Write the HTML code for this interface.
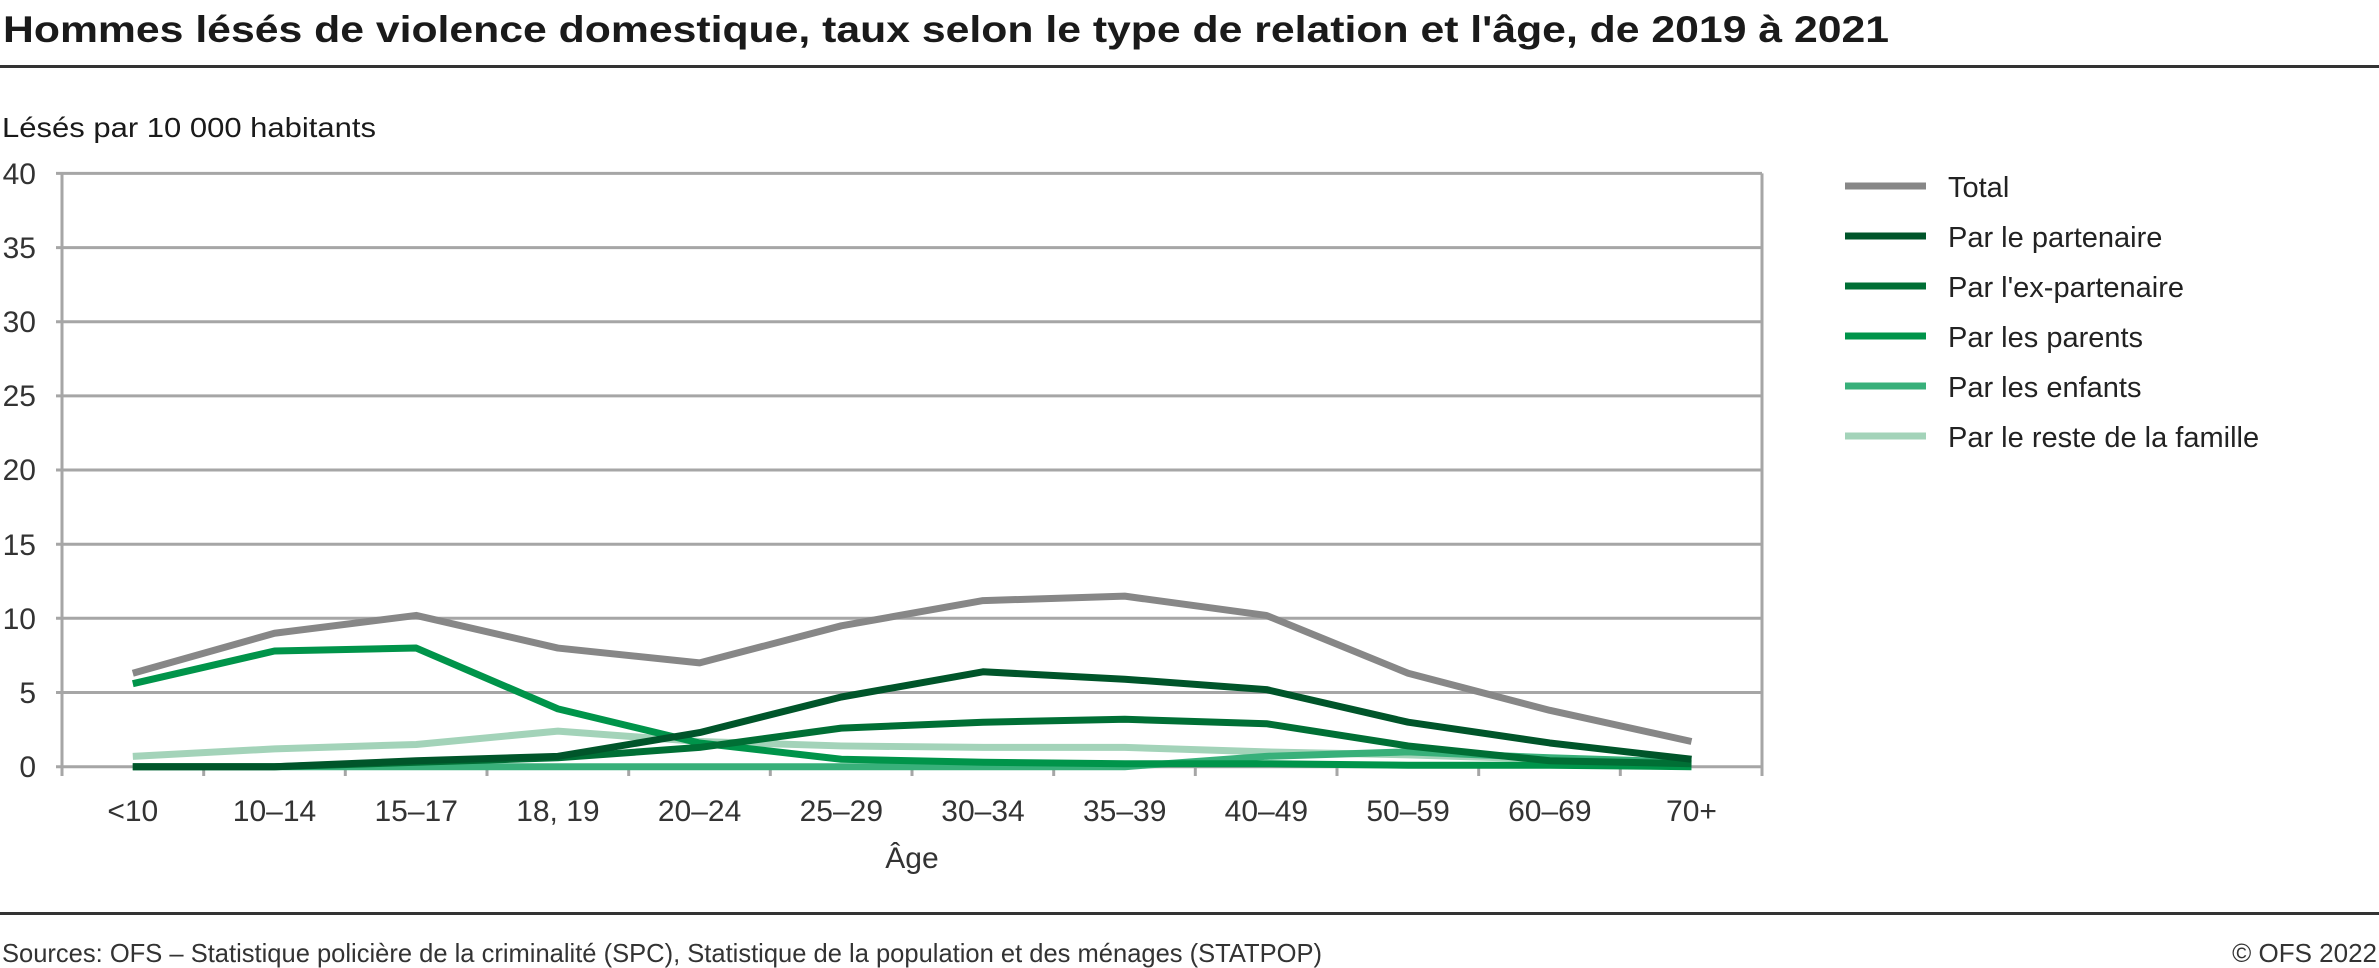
<!DOCTYPE html>
<html><head><meta charset="utf-8"><style>
html,body{margin:0;padding:0;background:#fff;}
svg{display:block;}
text{font-family:"Liberation Sans",sans-serif;}
</style></head><body>
<svg width="2379" height="968" viewBox="0 0 2379 968" xmlns="http://www.w3.org/2000/svg">
<text x="3" y="42" font-size="37" font-weight="bold" fill="#1a1a1a" textLength="1886" lengthAdjust="spacingAndGlyphs">Hommes lésés de violence domestique, taux selon le type de relation et l'âge, de 2019 à 2021</text>
<rect x="0" y="65" width="2379" height="3" fill="#333"/>
<text x="2" y="137" font-size="28" fill="#1a1a1a" textLength="374" lengthAdjust="spacingAndGlyphs">Lésés par 10 000 habitants</text>
<g stroke="#a6a6a6" stroke-width="3" fill="none">
<line x1="56" y1="173.4" x2="1762" y2="173.4"/>
<line x1="56" y1="247.6" x2="1762" y2="247.6"/>
<line x1="56" y1="321.7" x2="1762" y2="321.7"/>
<line x1="56" y1="395.9" x2="1762" y2="395.9"/>
<line x1="56" y1="470.0" x2="1762" y2="470.0"/>
<line x1="56" y1="544.2" x2="1762" y2="544.2"/>
<line x1="56" y1="618.3" x2="1762" y2="618.3"/>
<line x1="56" y1="692.5" x2="1762" y2="692.5"/>
<line x1="56" y1="766.7" x2="1762" y2="766.7"/>
<line x1="62" y1="173.4" x2="62" y2="776"/>
<line x1="1762" y1="173.4" x2="1762" y2="776"/>
<line x1="203.7" y1="766.7" x2="203.7" y2="776"/>
<line x1="345.3" y1="766.7" x2="345.3" y2="776"/>
<line x1="487" y1="766.7" x2="487" y2="776"/>
<line x1="628.7" y1="766.7" x2="628.7" y2="776"/>
<line x1="770.3" y1="766.7" x2="770.3" y2="776"/>
<line x1="912" y1="766.7" x2="912" y2="776"/>
<line x1="1053.7" y1="766.7" x2="1053.7" y2="776"/>
<line x1="1195.3" y1="766.7" x2="1195.3" y2="776"/>
<line x1="1337" y1="766.7" x2="1337" y2="776"/>
<line x1="1478.7" y1="766.7" x2="1478.7" y2="776"/>
<line x1="1620.3" y1="766.7" x2="1620.3" y2="776"/>
</g>
<g font-size="30" fill="#333" text-anchor="end">
<text x="36" y="184">40</text><text x="36" y="258">35</text><text x="36" y="332">30</text><text x="36" y="406">25</text><text x="36" y="480">20</text><text x="36" y="555">15</text><text x="36" y="629">10</text><text x="36" y="703">5</text><text x="36" y="777">0</text>
</g>
<g font-size="30" fill="#333" text-anchor="middle">
<text x="132.8" y="821">&lt;10</text><text x="274.5" y="821">10–14</text><text x="416.2" y="821">15–17</text><text x="557.9" y="821">18, 19</text><text x="699.6" y="821">20–24</text><text x="841.3" y="821">25–29</text><text x="983" y="821">30–34</text><text x="1124.7" y="821">35–39</text><text x="1266.4" y="821">40–49</text><text x="1408.1" y="821">50–59</text><text x="1549.8" y="821">60–69</text><text x="1691.5" y="821">70+</text>
<text x="912" y="868">Âge</text>
</g>
<g transform="translate(132.8,766.7) scale(141.7,-14.83)" fill="none" stroke-width="7" stroke-linejoin="round">
<polyline vector-effect="non-scaling-stroke" stroke="#a3d3b9" points="0,0.7 1,1.2 2,1.5 3,2.4 4,1.7 5,1.4 6,1.3 7,1.3 8,1.0 9,0.8 10,0.5 11,0.2"/>
<polyline vector-effect="non-scaling-stroke" stroke="#38b07a" points="0,0 1,0 2,0 3,0 4,0 5,0 6,0 7,0 8,0.7 9,1.0 10,0.6 11,0.3"/>
<polyline vector-effect="non-scaling-stroke" stroke="#00944a" points="0,5.6 1,7.8 2,8.0 3,3.9 4,1.6 5,0.5 6,0.3 7,0.2 8,0.2 9,0.1 10,0.1 11,0"/>
<polyline vector-effect="non-scaling-stroke" stroke="#006f35" points="0,0 1,0 2,0.3 3,0.6 4,1.3 5,2.6 6,3.0 7,3.2 8,2.9 9,1.4 10,0.4 11,0.2"/>
<polyline vector-effect="non-scaling-stroke" stroke="#00552a" points="0,0 1,0 2,0.4 3,0.7 4,2.3 5,4.7 6,6.4 7,5.9 8,5.2 9,3.0 10,1.6 11,0.5"/>
<polyline vector-effect="non-scaling-stroke" stroke="#878787" points="0,6.3 1,9.0 2,10.2 3,8.0 4,7.0 5,9.5 6,11.2 7,11.5 8,10.2 9,6.3 10,3.8 11,1.7"/>
</g>
<g stroke-width="7">
<line x1="1845" y1="186" x2="1926" y2="186" stroke="#878787"/>
<line x1="1845" y1="236" x2="1926" y2="236" stroke="#00552a"/>
<line x1="1845" y1="286" x2="1926" y2="286" stroke="#006f35"/>
<line x1="1845" y1="336" x2="1926" y2="336" stroke="#00944a"/>
<line x1="1845" y1="386" x2="1926" y2="386" stroke="#38b07a"/>
<line x1="1845" y1="436" x2="1926" y2="436" stroke="#a3d3b9"/>
</g>
<g font-size="29" fill="#222">
<text x="1948" y="197">Total</text>
<text x="1948" y="247">Par le partenaire</text>
<text x="1948" y="297">Par l'ex-partenaire</text>
<text x="1948" y="347">Par les parents</text>
<text x="1948" y="397">Par les enfants</text>
<text x="1948" y="447">Par le reste de la famille</text>
</g>
<rect x="0" y="912" width="2379" height="3" fill="#333"/>
<text x="2" y="962" font-size="26" fill="#333" textLength="1320" lengthAdjust="spacingAndGlyphs">Sources: OFS – Statistique policière de la criminalité (SPC), Statistique de la population et des ménages (STATPOP)</text>
<text x="2377" y="962" font-size="26" fill="#333" text-anchor="end">© OFS 2022</text>
</svg>
</body></html>
